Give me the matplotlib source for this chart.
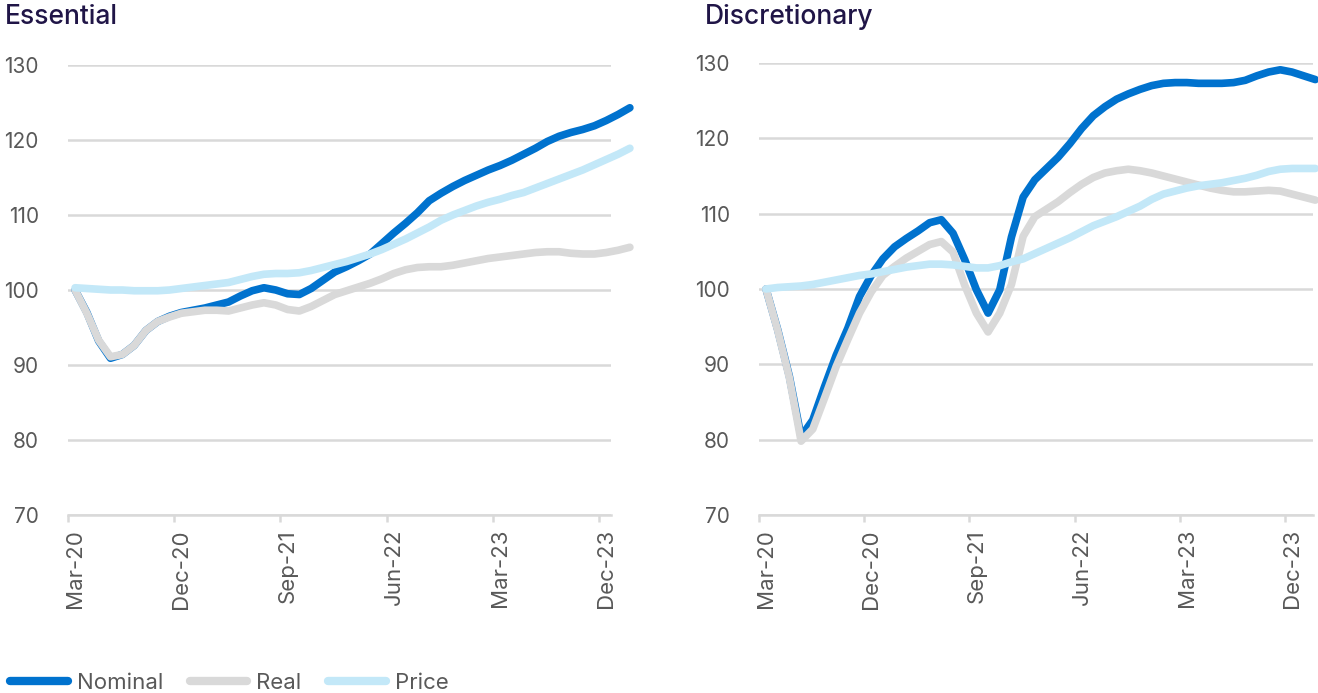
import matplotlib
matplotlib.use("Agg")
import matplotlib.pyplot as plt
from matplotlib.lines import Line2D
import numpy as np

plt.rcParams["font.family"] = ["Inter", "DejaVu Sans"]

# Monthly index values, Mar-20 onwards
tick_pos = [0, 9, 18, 27, 36, 45]
tick_labels = ["Mar-20", "Dec-20", "Sep-21", "Jun-22", "Mar-23", "Dec-23"]

ess_nominal = [100.0, 97.0, 93.2, 90.9, 91.4, 92.6, 94.6, 95.8, 96.5, 97.0, 97.3, 97.6,
               98.0, 98.4, 99.2, 99.9, 100.3, 100.0, 99.5, 99.4, 100.2, 101.3, 102.4, 103.1,
               103.9, 104.8, 106.2, 107.6, 108.9, 110.3, 111.9, 112.9, 113.8, 114.6, 115.3, 116.0,
               116.6, 117.3, 118.1, 118.9, 119.8, 120.5, 121.0, 121.4, 121.9, 122.6, 123.4, 124.3]
ess_real = [100.0, 96.9, 93.3, 91.1, 91.4, 92.6, 94.6, 95.8, 96.4, 96.9, 97.1, 97.3,
            97.3, 97.2, 97.6, 98.0, 98.3, 98.0, 97.4, 97.2, 97.8, 98.6, 99.4, 99.9,
            100.4, 100.9, 101.5, 102.2, 102.7, 103.0, 103.1, 103.1, 103.3, 103.6, 103.9, 104.2,
            104.4, 104.6, 104.8, 105.0, 105.1, 105.1, 104.9, 104.8, 104.8, 105.0, 105.3, 105.7]
ess_price = [100.3, 100.2, 100.1, 100.0, 100.0, 99.9, 99.9, 99.9, 100.0, 100.2, 100.4, 100.6,
             100.8, 101.0, 101.4, 101.8, 102.1, 102.2, 102.2, 102.3, 102.6, 103.0, 103.4, 103.8,
             104.3, 104.8, 105.4, 106.1, 106.8, 107.6, 108.4, 109.3, 110.0, 110.6, 111.2, 111.7,
             112.1, 112.6, 113.0, 113.6, 114.2, 114.8, 115.4, 116.0, 116.7, 117.4, 118.1, 118.9]

dis_nominal = [100.0, 94.6, 88.4, 80.4, 82.6, 87.0, 91.2, 94.8, 99.0, 101.8, 104.0, 105.6,
               106.7, 107.7, 108.8, 109.2, 107.4, 103.9, 99.9, 96.8, 99.9, 106.9, 112.2, 114.5,
               116.0, 117.5, 119.3, 121.3, 123.0, 124.2, 125.2, 125.9, 126.5, 127.0, 127.3, 127.4,
               127.4, 127.3, 127.3, 127.3, 127.4, 127.7, 128.3, 128.8, 129.1, 128.8, 128.3, 127.8]
dis_real = [100.0, 94.5, 88.2, 79.8, 81.4, 85.5, 89.7, 93.3, 96.8, 99.6, 101.8, 103.0,
            104.1, 105.0, 105.9, 106.3, 104.9, 100.5, 96.8, 94.3, 96.8, 100.6, 107.0, 109.6,
            110.6, 111.6, 112.8, 113.9, 114.8, 115.4, 115.7, 115.9, 115.7, 115.4, 115.0, 114.6,
            114.2, 113.8, 113.4, 113.1, 112.9, 112.9, 113.0, 113.1, 113.0, 112.6, 112.2, 111.8]
dis_price = [100.0, 100.2, 100.3, 100.4, 100.6, 100.9, 101.2, 101.5, 101.8, 102.0, 102.3, 102.6,
             102.9, 103.1, 103.3, 103.3, 103.2, 103.0, 102.8, 102.8, 103.1, 103.6, 104.0, 104.7,
             105.4, 106.1, 106.8, 107.6, 108.4, 109.0, 109.6, 110.3, 111.0, 111.9, 112.6, 113.0,
             113.4, 113.7, 113.9, 114.1, 114.4, 114.7, 115.1, 115.6, 115.9, 116.0, 116.0, 116.0]

NOMINAL = "#0072CE"
REAL = "#D9D9D9"
PRICE = "#C3E8F8"
GRID = "#D9D9D9"
TEXT = "#595959"
NAVY = "#201547"

W, H = 1318, 693
fig = plt.figure(figsize=(W / 100, H / 100), dpi=100)

ax1 = fig.add_axes([68 / W, (H - 515) / H, (611 - 68) / W, 450 / H])
ax2 = fig.add_axes([759 / W, (H - 515) / H, (1313 - 759) / W, 452 / H])


def draw_panel(ax, nominal, real, price, xmax):
    x = np.arange(len(nominal))
    for vals, col in [(nominal, NOMINAL), (real, REAL), (price, PRICE)]:
        ax.plot(x, vals, color=col, lw=5.5, solid_capstyle="round",
                solid_joinstyle="round", clip_on=False)
    ax.set_xlim(-0.5, xmax)
    ax.set_ylim(70, 130)
    ax.set_yticks(range(70, 131, 10))
    ax.yaxis.grid(True, color=GRID, lw=1.8)
    ax.set_axisbelow(True)
    for s in ["top", "right", "left"]:
        ax.spines[s].set_visible(False)
    ax.spines["bottom"].set_color(GRID)
    ax.spines["bottom"].set_linewidth(1.8)
    ax.set_xticks(tick_pos)
    ax.set_xticklabels(tick_labels, rotation=90)
    ax.set_xticks([p - 0.6 for p in tick_pos], minor=True)
    ax.tick_params(axis="x", which="major", length=0, pad=10, labelsize=16, labelcolor=TEXT)
    ax.tick_params(axis="x", which="minor", length=5, width=1.8, color=GRID)
    ax.tick_params(axis="y", length=0, pad=21, labelsize=15, labelcolor=TEXT)


draw_panel(ax1, ess_nominal, ess_real, ess_price, 45.4)
draw_panel(ax2, dis_nominal, dis_real, dis_price, 46.8)

fig.text(5 / W, 1 - 17 / H, "Essential", fontsize=19, color=NAVY,
         fontweight="medium", va="center", ha="left")
fig.text(705 / W, 1 - 17 / H, "Discretionary", fontsize=19, color=NAVY,
         fontweight="medium", va="center", ha="left")

handles = [Line2D([], [], color=c, lw=6, solid_capstyle="round")
           for c in [NOMINAL, REAL, PRICE]]
leg = fig.legend(handles, ["Nominal", "Real", "Price"], ncol=3, frameon=False,
                 loc="center left", bbox_to_anchor=(10 / W, 1 - 683 / H),
                 fontsize=16, handlelength=2.6, handletextpad=0.4,
                 columnspacing=1.2, borderpad=0, borderaxespad=0)
for t in leg.get_texts():
    t.set_color(TEXT)

fig.savefig("out.png", dpi=100)
